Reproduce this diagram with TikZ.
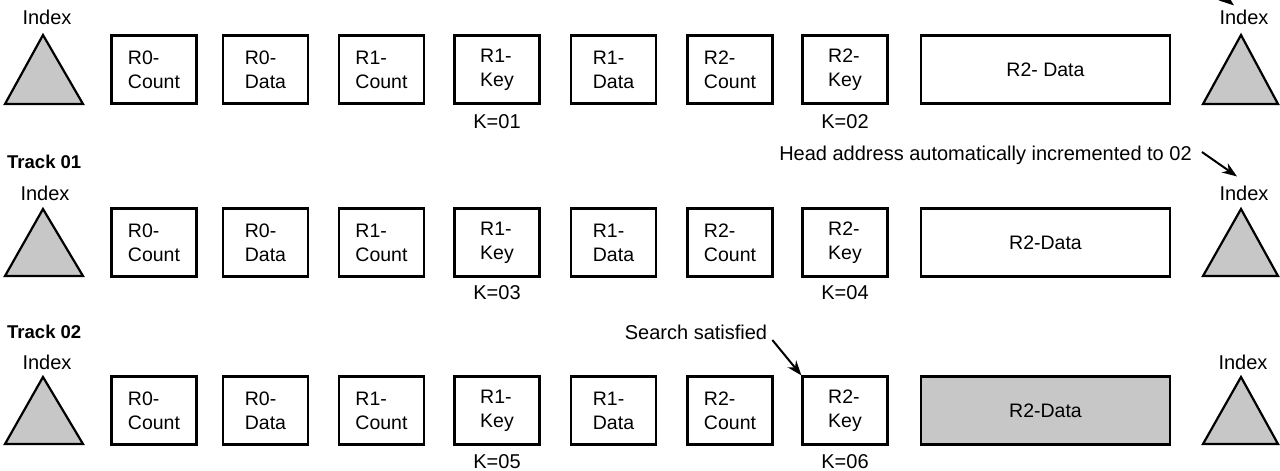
\documentclass[tikz,border=0pt]{standalone}
\usepackage{fontspec}
\setmainfont{Liberation Sans}
\usetikzlibrary{arrows.meta}
\begin{document}
\begin{tikzpicture}[x=1pt,y=-1pt,
  rec/.style={draw, line width=2.2pt, minimum width=85pt, minimum height=68pt, inner sep=0pt, align=left, font=\fontsize{19.5}{24}\selectfont},
  wide/.style={rec, minimum width=249pt, align=center},
  lbl/.style={inner sep=0pt, font=\fontsize{20}{24}\selectfont},
  trk/.style={inner sep=0pt, anchor=west, font=\bfseries\fontsize{18.5}{22}\selectfont},
  tri/.style={fill=black!22, draw, line width=2.2pt, line join=miter},
  arr/.style={-{Stealth[length=15pt,width=11pt]}, line width=2pt}]
\useasboundingbox (0,0) rectangle (1280,471);
\clip (0,0) rectangle (1280,471);
\fill[white] (0,0) rectangle (1280,471);
% triangles
\foreach \yt/\yb in {35/104, 209/276, 377/444}{
  \draw[tri] (43,\yt) -- (5,\yb) -- (83,\yb) -- cycle;
  \draw[tri] (1241,\yt) -- (1203,\yb) -- (1278,\yb) -- cycle;
}
% small boxes
\foreach \r/\yc in {1/69.5, 2/242.5, 3/410.5}{
  \foreach \n/\xc/\ta/\tb in {a/154/R0-/Count, b/265.5/R0-/Data, c/381.5/R1-/Count, d/497/R1-/Key, e/613.5/R1-/Data, f/730/R2-/Count, g/845/R2-/Key}{
    \node[rec] (r\r\n) at (\xc,\yc) {\ta\\\tb};
  }
}
% large data boxes
\node[wide] (r1h) at (1045.5,69.5) {R2- Data};
\node[wide] (r2h) at (1045.5,242.5) {R2-Data};
\node[wide, fill=black!22] (r3h) at (1045.5,410.5) {R2-Data};
% index labels
\node[lbl] (i1l) at (47,17) {Index};
\node[lbl] (i1r) at (1244,17) {Index};
\node[lbl] (i2l) at (45,193) {Index};
\node[lbl] (i2r) at (1244,193) {Index};
\node[lbl] (i3l) at (47,362) {Index};
\node[lbl] (i3r) at (1243,362) {Index};
% track labels
\node[trk] (t1) at (7,162) {Track 01};
\node[trk] (t2) at (7,332) {Track 02};
% key labels
\node[lbl] (k1) at ([yshift=-17pt]r1d.south) {K=01};
\node[lbl] (k2) at ([yshift=-17pt]r1g.south) {K=02};
\node[lbl] (k3) at ([yshift=-15pt]r2d.south) {K=03};
\node[lbl] (k4) at ([yshift=-15pt]r2g.south) {K=04};
\node[lbl] (k5) at ([yshift=-16pt]r3d.south) {K=05};
\node[lbl] (k6) at ([yshift=-16pt]r3g.south) {K=06};
% annotations
\node[lbl] (head) at (985.5,155) {Head address automatically incremented to 02};
\node[lbl] (search) at (696,332) {Search satisfied};
\coordinate (topstart) at (1202,-20);
\draw[arr] ([shift={(10,-3)}]head.east) -- ([shift={(-7,-9)}]i2r.north);
\draw[arr] (topstart) -- ([shift={(-10,-4)}]i1r.north);
\draw[arr] ([shift={(5,8)}]search.east) -- (r3g.north west);
\end{tikzpicture}
\end{document}
